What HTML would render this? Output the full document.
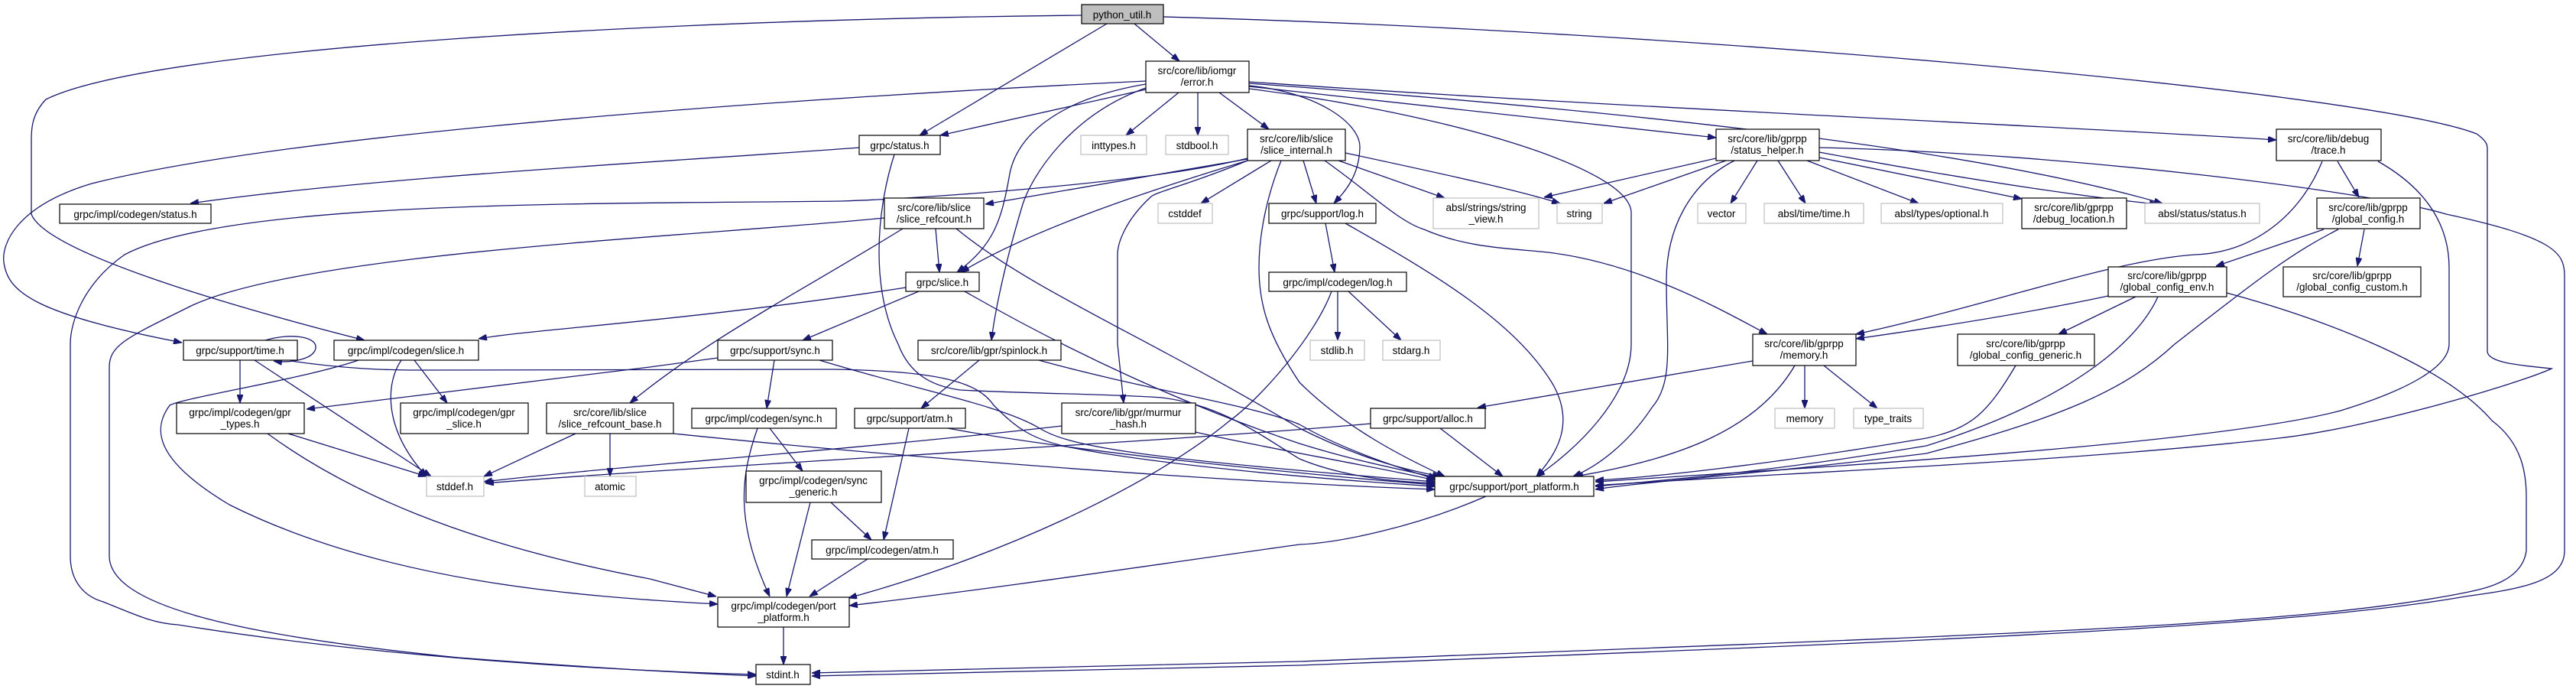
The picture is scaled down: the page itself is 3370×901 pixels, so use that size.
<!DOCTYPE html>
<html><head><meta charset="utf-8">
<style>
html,body{margin:0;padding:0;background:#fff;}
svg{display:block;}
text{font-family:"Liberation Sans",sans-serif;font-size:13.5px;fill:#000;text-anchor:middle;}
.n{fill:#fff;stroke:#000;stroke-width:1.2;}
.g{fill:#fff;stroke:#bfbfbf;stroke-width:1.2;}
.r{fill:#bfbfbf;stroke:#000;stroke-width:1.2;}
path.e{fill:none;stroke:#191970;stroke-width:1.3;marker-end:url(#a);}
</style></head><body>
<svg width="3370" height="901" viewBox="0 0 3370 901" xmlns="http://www.w3.org/2000/svg">
<defs><marker id="a" markerUnits="userSpaceOnUse" markerWidth="11" markerHeight="8" refX="11" refY="4" orient="auto"><path d="M0,0 L11,4 L0,8 z" fill="#191970" stroke="#191970"/></marker></defs>
<g>
<path class="e" d="M1484,31 L1543,80"/>
<path class="e" d="M1448,31 L1203,177"/>
<path class="e" d="M1415,20 C900,25 200,60 60,130 C41,150 41,170 41,183 L41,280 C60,330 300,400 477,445"/>
<path class="e" d="M1522,22 C2200,40 3100,120 3240,175 C3254,185 3254,190 3254,195 L3254,460 C3256,475 3300,478 3338,482 C3300,500 3100,560 2981,573 C2700,605 2300,620 2087,635"/>
<path class="e" d="M1499,117 L1230,177"/>
<path class="e" d="M1542,121 L1473,177"/>
<path class="e" d="M1567,121 L1567,177"/>
<path class="e" d="M1595,121 L1660,169"/>
<path class="e" d="M1499,106 C1100,125 400,170 120,240 C20,270 2,320 5,343 C10,380 40,410 238,448"/>
<path class="e" d="M1499,110 C1380,130 1330,180 1321,227 C1310,290 1300,320 1252,356"/>
<path class="e" d="M1499,115 C1400,150 1350,230 1338,267 C1310,360 1300,420 1297,445"/>
<path class="e" d="M1634,112 C1720,120 1780,160 1779,193 C1778,230 1760,250 1745,266"/>
<path class="e" d="M1634,113 L2245,180"/>
<path class="e" d="M1634,116 C1900,150 2130,220 2134,277 L2134,450 C2134,520 2060,590 2010,623"/>
<path class="e" d="M1634,107 C2100,140 2700,165 2978,183"/>
<path class="e" d="M1634,109 C2200,150 2600,200 2829,266"/>
<path class="e" d="M1705,210 L1722,266"/>
<path class="e" d="M1751,210 L1890,259"/>
<path class="e" d="M1760,200 C1900,230 1990,250 2041,266"/>
<path class="e" d="M1733,210 C1790,250 1830,290 1863,300 C1920,325 1980,325 2025,330 C2150,345 2260,410 2312,437"/>
<path class="e" d="M1663,210 L1571,266"/>
<path class="e" d="M1632,208 L1289,267"/>
<path class="e" d="M1632,210 C1500,250 1350,300 1257,356"/>
<path class="e" d="M1632,207 C1500,240 1200,260 1100,263 C800,267 300,260 163,333 C110,370 92,420 92,450 L92,727 C92,760 110,780 135,787 C180,805 200,815 233,817 C500,860 800,877 989,882"/>
<path class="e" d="M1632,210 C1560,240 1515,250 1506,257 C1470,290 1462,320 1462,333 L1462,450 L1470,527"/>
<path class="e" d="M1676,210 C1660,250 1647,300 1647,350 C1647,400 1660,440 1700,500 C1760,560 1840,600 1890,623"/>
<path class="e" d="M1224,299 L1229,356"/>
<path class="e" d="M1181,299 C1050,380 930,440 824,527"/>
<path class="e" d="M1251,299 C1350,380 1500,440 1700,560 C1780,600 1840,615 1885,623"/>
<path class="e" d="M1157,285 C900,310 400,330 250,400 C170,440 143,450 143,480 L143,727 C143,790 300,830 600,860 C800,875 900,880 989,884"/>
<path class="e" d="M1124,193 C900,210 500,230 249,266"/>
<path class="e" d="M1170,202 C1145,280 1140,380 1175,450 C1190,490 1220,505 1256,510 C1350,515 1450,515 1520,520 C1600,530 1650,570 1700,600 C1760,625 1830,630 1877,632"/>
<path class="e" d="M1202,381 L1050,445"/>
<path class="e" d="M1185,376 C900,420 700,430 626,443"/>
<path class="e" d="M1262,381 C1400,460 1550,530 1700,580 C1780,605 1840,615 1880,625"/>
<path class="e" d="M1734,292 L1746,356"/>
<path class="e" d="M1760,292 C1880,360 1980,420 2030,500 C2060,550 2040,590 2010,623"/>
<path class="e" d="M1750,381 L1750,445"/>
<path class="e" d="M1764,381 L1833,445"/>
<path class="e" d="M1742,381 C1720,440 1650,520 1609,550 C1500,640 1300,730 1110,782"/>
<path class="e" d="M347,445 C380,435 415,440 413,455 C411,470 380,475 358,472"/>
<path class="e" d="M314,471 L314,527"/>
<path class="e" d="M333,471 L564,623"/>
<path class="e" d="M380,472 C450,482 500,484 550,484 L1090,483 C1230,485 1280,500 1300,530 C1330,560 1350,575 1400,585 C1500,605 1700,625 1877,636"/>
<path class="e" d="M542,471 L585,527"/>
<path class="e" d="M525,471 C505,500 500,560 558,623"/>
<path class="e" d="M469,471 C400,495 240,520 222,530 C200,560 200,600 300,660 C500,760 750,780 939,790"/>
<path class="e" d="M377,567 L558,623"/>
<path class="e" d="M350,567 C450,640 600,710 850,757 L937,780"/>
<path class="e" d="M753,567 L633,623"/>
<path class="e" d="M798,567 L798,623"/>
<path class="e" d="M881,567 C1200,600 1600,630 1877,640"/>
<path class="e" d="M1007,560 L1050,616"/>
<path class="e" d="M991,560 C970,620 960,680 1007,780"/>
<path class="e" d="M1013,471 L1003,534"/>
<path class="e" d="M1072,471 C1200,510 1310,530 1360,560 C1400,585 1500,600 1877,630"/>
<path class="e" d="M939,468 L850,480 L401,535"/>
<path class="e" d="M1281,471 L1205,534"/>
<path class="e" d="M1359,471 C1500,510 1640,530 1700,555 C1760,590 1840,615 1880,627"/>
<path class="e" d="M1189,560 L1156,706"/>
<path class="e" d="M1240,560 C1400,590 1700,620 1877,634"/>
<path class="e" d="M1060,657 L1029,780"/>
<path class="e" d="M1087,657 L1140,706"/>
<path class="e" d="M1135,731 L1059,780"/>
<path class="e" d="M1025,820 L1025,869"/>
<path class="e" d="M1944,649 C1850,690 1750,710 1700,712 C1500,740 1300,770 1111,792"/>
<path class="e" d="M1564,565 C1650,585 1800,610 1877,628"/>
<path class="e" d="M1389,557 C1100,590 800,610 633,630"/>
<path class="e" d="M1884,560 L1966,623"/>
<path class="e" d="M1793,554 C1500,580 900,610 635,632"/>
<path class="e" d="M2293,472 L1933,533"/>
<path class="e" d="M2361,478 L2361,534"/>
<path class="e" d="M2386,478 L2456,534"/>
<path class="e" d="M2348,478 C2300,560 2200,600 2060,623"/>
<path class="e" d="M2245,207 L2020,258"/>
<path class="e" d="M2258,210 L2098,266"/>
<path class="e" d="M2299,210 L2264,266"/>
<path class="e" d="M2326,210 L2362,266"/>
<path class="e" d="M2364,210 L2510,266"/>
<path class="e" d="M2380,206 L2645,260"/>
<path class="e" d="M2380,199 C2600,240 2750,260 2823,267"/>
<path class="e" d="M2380,193 C2700,200 3100,250 3200,280 C3340,310 3355,330 3355,360 L3355,720 C3355,760 3300,770 3225,780 C3000,820 2500,840 1700,870 L1062,884"/>
<path class="e" d="M2269,210 C2210,240 2180,300 2180,367 C2180,450 2190,500 2161,533 C2130,580 2090,610 2058,623"/>
<path class="e" d="M3038,211 C3010,280 2950,330 2872,333 C2764,340 2600,400 2428,437"/>
<path class="e" d="M3058,211 L3086,258"/>
<path class="e" d="M3111,211 C3180,250 3204,300 3204,350 L3204,450 C3204,480 3150,510 3062,537 C2900,580 2400,610 2087,630"/>
<path class="e" d="M3040,300 L2899,348"/>
<path class="e" d="M3093,300 L3084,348"/>
<path class="e" d="M3059,300 C3000,330 2960,360 2845,450 C2780,510 2700,545 2520,593 C2300,620 2150,630 2087,640"/>
<path class="e" d="M2794,388 L2693,437"/>
<path class="e" d="M2758,387 C2650,410 2520,430 2428,443"/>
<path class="e" d="M2823,388 C2800,440 2720,520 2520,583 C2300,620 2150,630 2087,636"/>
<path class="e" d="M2913,383 C3050,420 3200,480 3260,550 C3300,580 3305,620 3305,650 L3305,720 C3300,760 3250,770 3225,775 C3000,820 2600,830 1700,865 L1062,880"/>
<path class="e" d="M2637,478 C2600,540 2580,560 2520,573 C2300,610 2150,625 2087,628"/>
</g>
<g>
<rect class="r" x="1415" y="6" width="107" height="25"/><text x="1468" y="24">python_util.h</text>
<rect class="n" x="1499" y="80" width="135" height="41"/><text x="1566" y="97">src/core/lib/iomgr</text><text x="1566" y="112">/error.h</text>
<rect class="n" x="1124" y="177" width="106" height="25"/><text x="1177" y="195">grpc/status.h</text>
<rect class="g" x="1414" y="177" width="86" height="25"/><text x="1457" y="195">inttypes.h</text>
<rect class="g" x="1525" y="177" width="82" height="25"/><text x="1566" y="195">stdbool.h</text>
<rect class="n" x="1632" y="169" width="128" height="41"/><text x="1696" y="186">src/core/lib/slice</text><text x="1696" y="201">/slice_internal.h</text>
<rect class="n" x="2245" y="169" width="135" height="41"/><text x="2312" y="186">src/core/lib/gprpp</text><text x="2312" y="201">/status_helper.h</text>
<rect class="n" x="2978" y="169" width="137" height="41"/><text x="3046" y="186">src/core/lib/debug</text><text x="3046" y="201">/trace.h</text>
<rect class="n" x="78" y="267" width="198" height="25"/><text x="177" y="285">grpc/impl/codegen/status.h</text>
<rect class="n" x="1157" y="259" width="130" height="40"/><text x="1222" y="276">src/core/lib/slice</text><text x="1222" y="291">/slice_refcount.h</text>
<rect class="g" x="1515" y="266" width="71" height="26"/><text x="1550" y="284">cstddef</text>
<rect class="n" x="1660" y="266" width="140" height="26"/><text x="1730" y="284">grpc/support/log.h</text>
<rect class="g" x="1875" y="259" width="138" height="40"/><text x="1944" y="276">absl/strings/string</text><text x="1944" y="291">_view.h</text>
<rect class="g" x="2037" y="266" width="59" height="26"/><text x="2066" y="284">string</text>
<rect class="g" x="2221" y="266" width="63" height="26"/><text x="2252" y="284">vector</text>
<rect class="g" x="2308" y="266" width="130" height="26"/><text x="2373" y="284">absl/time/time.h</text>
<rect class="g" x="2461" y="266" width="159" height="26"/><text x="2540" y="284">absl/types/optional.h</text>
<rect class="n" x="2645" y="259" width="137" height="40"/><text x="2713" y="276">src/core/lib/gprpp</text><text x="2713" y="291">/debug_location.h</text>
<rect class="g" x="2806" y="266" width="150" height="26"/><text x="2881" y="284">absl/status/status.h</text>
<rect class="n" x="3031" y="259" width="135" height="40"/><text x="3098" y="276">src/core/lib/gprpp</text><text x="3098" y="291">/global_config.h</text>
<rect class="n" x="1185" y="356" width="96" height="25"/><text x="1233" y="374">grpc/slice.h</text>
<rect class="n" x="1660" y="356" width="180" height="25"/><text x="1750" y="374">grpc/impl/codegen/log.h</text>
<rect class="n" x="2758" y="349" width="155" height="39"/><text x="2835" y="365">src/core/lib/gprpp</text><text x="2835" y="380">/global_config_env.h</text>
<rect class="n" x="2987" y="349" width="180" height="39"/><text x="3077" y="365">src/core/lib/gprpp</text><text x="3077" y="380">/global_config_custom.h</text>
<rect class="n" x="240" y="445" width="149" height="26"/><text x="314" y="463">grpc/support/time.h</text>
<rect class="n" x="437" y="445" width="189" height="26"/><text x="531" y="463">grpc/impl/codegen/slice.h</text>
<rect class="n" x="939" y="445" width="150" height="26"/><text x="1014" y="463">grpc/support/sync.h</text>
<rect class="n" x="1201" y="445" width="187" height="26"/><text x="1294" y="463">src/core/lib/gpr/spinlock.h</text>
<rect class="g" x="1714" y="445" width="71" height="26"/><text x="1749" y="463">stdlib.h</text>
<rect class="g" x="1809" y="445" width="75" height="26"/><text x="1846" y="463">stdarg.h</text>
<rect class="n" x="2293" y="437" width="135" height="41"/><text x="2360" y="454">src/core/lib/gprpp</text><text x="2360" y="469">/memory.h</text>
<rect class="n" x="2561" y="437" width="179" height="41"/><text x="2650" y="454">src/core/lib/gprpp</text><text x="2650" y="469">/global_config_generic.h</text>
<rect class="n" x="231" y="527" width="167" height="40"/><text x="314" y="544">grpc/impl/codegen/gpr</text><text x="314" y="559">_types.h</text>
<rect class="n" x="524" y="527" width="167" height="40"/><text x="607" y="544">grpc/impl/codegen/gpr</text><text x="607" y="559">_slice.h</text>
<rect class="n" x="715" y="527" width="166" height="40"/><text x="798" y="544">src/core/lib/slice</text><text x="798" y="559">/slice_refcount_base.h</text>
<rect class="n" x="905" y="534" width="189" height="26"/><text x="999" y="552">grpc/impl/codegen/sync.h</text>
<rect class="n" x="1118" y="534" width="145" height="26"/><text x="1190" y="552">grpc/support/atm.h</text>
<rect class="n" x="1389" y="527" width="175" height="40"/><text x="1476" y="544">src/core/lib/gpr/murmur</text><text x="1476" y="559">_hash.h</text>
<rect class="n" x="1793" y="534" width="150" height="26"/><text x="1868" y="552">grpc/support/alloc.h</text>
<rect class="g" x="2322" y="534" width="78" height="26"/><text x="2361" y="552">memory</text>
<rect class="g" x="2425" y="534" width="91" height="26"/><text x="2470" y="552">type_traits</text>
<rect class="g" x="558" y="623" width="75" height="26"/><text x="595" y="641">stddef.h</text>
<rect class="g" x="765" y="623" width="67" height="26"/><text x="798" y="641">atomic</text>
<rect class="n" x="976" y="616" width="177" height="41"/><text x="1064" y="633">grpc/impl/codegen/sync</text><text x="1064" y="648">_generic.h</text>
<rect class="n" x="1877" y="623" width="208" height="26"/><text x="1981" y="641">grpc/support/port_platform.h</text>
<rect class="n" x="1062" y="706" width="185" height="25"/><text x="1154" y="724">grpc/impl/codegen/atm.h</text>
<rect class="n" x="939" y="781" width="172" height="39"/><text x="1025" y="797">grpc/impl/codegen/port</text><text x="1025" y="812">_platform.h</text>
<rect class="n" x="989" y="869" width="71" height="26"/><text x="1024" y="887">stdint.h</text>
</g>
</svg>
</body></html>
